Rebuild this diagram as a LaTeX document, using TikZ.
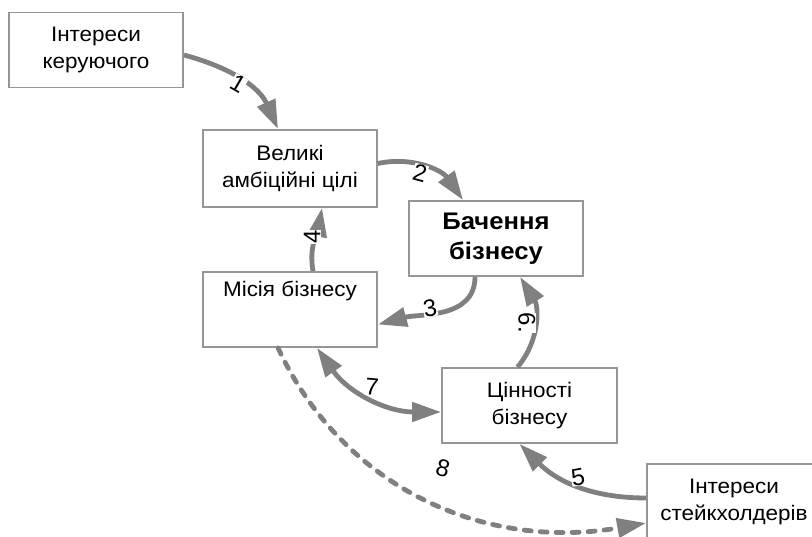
\documentclass[tikz,border=0pt]{standalone}
\usepackage{fontspec}
\setmainfont{Liberation Sans}
\newfontfamily\boxfont[FakeStretch=1.07]{Liberation Sans}
\usetikzlibrary{arrows.meta}
\definecolor{arrgray}{RGB}{128,128,128}
\definecolor{boxgray}{RGB}{150,150,150}
\begin{document}
\begin{tikzpicture}[x=1pt,y=1pt,
  box/.style={draw=boxgray, line width=1.8pt, fill=white, minimum width=174pt, minimum height=75pt, inner sep=0pt, align=center, font=\boxfont\fontsize{21}{27}\selectfont},
  tip/.tip={Triangle[length=29pt,width=19pt]},
  conn/.style={draw=arrgray, line width=4.8pt, -tip},
  num/.style={fill=white, inner sep=0.3pt, font=\fontsize{24}{26}\selectfont}]
\useasboundingbox (0,0) rectangle (812,537);
\node[box] (b1) at (96,487) {Інтереси\\керуючого};
\node[box, minimum height=77pt] (b2) at (290,368.5) {Великі\\амбіційні цілі};
\node[box, font=\boxfont\fontsize{24}{30}\selectfont\bfseries] (b3) at (496,298.5) {Бачення\\бізнесу};
\node[box] (b4) at (290,227.5) {Місія бізнесу\\[14pt]\phantom{Ж}};
\node[box, minimum width=175pt] (b5) at (529.5,131.5) {Цінності\\бізнесу};
\node[box] (b6) at (734,35.5) {Інтереси\\стейкхолдерів};

\draw[conn] ([yshift=-5pt]b1.east) to[out=-15, in=114] ([xshift=-12pt]b2.north);
\draw[conn] ([yshift=5pt]b2.east) to[out=12, in=125] ([xshift=-33pt]b3.north);
\draw[conn] ([xshift=-21pt]b3.south) to[out=-90, in=15] ([yshift=-15pt]b4.east);
\draw[conn] ([xshift=23pt]b4.north) to[out=100, in=-100] ([xshift=32pt]b2.south);
\draw[conn] ([yshift=3.5pt]b6.west) to[out=180, in=-45] ([xshift=-10pt]b5.south);
\draw[conn] ([xshift=-12pt]b5.north) to[out=50, in=-58] ([xshift=24pt]b3.south);
\draw[conn, tip-tip] ([xshift=27pt]b4.south) to[out=-55, in=180] ([yshift=-6.5pt]b5.west);
\draw[conn, dash pattern=on 7pt off 9pt, line cap=round] ([xshift=-12pt]b4.south) to[out=-65, in=190] ([yshift=-21.5pt]b6.west);

\node[num, rotate=-30] (n1) at (238,453) {1};
\node[num, rotate=-15] (n2) at (420,364) {2};
\node[num, rotate=10] (n3) at (430,229) {3};
\node[num, rotate=90] (n4) at (312,300) {4};
\node[num, rotate=10] (n5) at (578,60) {5};
\node[num, rotate=-90] (n6) at (527,214) {6.};
\node[num, rotate=-5] (n7) at (372,150) {7};
\node[num, rotate=-15] (n8) at (443,69) {8};
\end{tikzpicture}
\end{document}
